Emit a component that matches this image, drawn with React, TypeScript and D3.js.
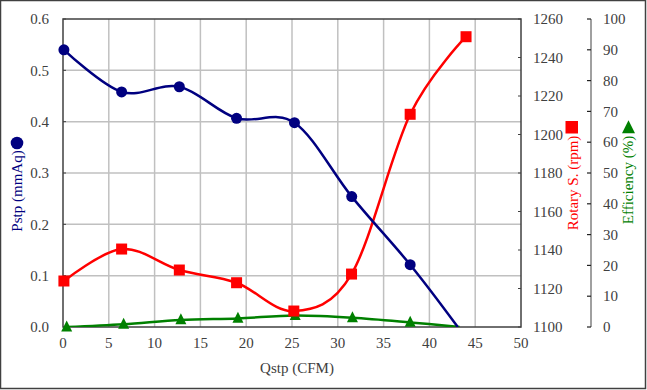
import React from "react";
import * as d3 from "d3";

const pstpQ = [0.1, 6.4, 12.7, 18.95, 25.27, 31.52, 37.9, 43.1];
const pstpV = [0.54, 0.458, 0.468, 0.4066, 0.398, 0.254, 0.1214, 0];
const pstpMarked = 7;

const rpmQ = [0.1, 6.4, 12.7, 18.95, 25.2, 31.5, 37.9, 44.0];
const rpmV = [1123.9, 1140.5, 1129.6, 1123.0, 1108.3, 1127.5, 1210.5, 1250.8];

const effQ = [0.4, 6.62, 12.87, 19.1, 25.35, 31.6, 37.9, 43.3];
const effV = [0, 0.9, 2.3, 2.8, 3.7, 3.0, 1.5, 0];
const effMarked = 7;

const xTicks = [0, 5, 10, 15, 20, 25, 30, 35, 40, 45, 50];
const pTicks = [0, 0.1, 0.2, 0.3, 0.4, 0.5, 0.6];
const rTicks = [1100, 1120, 1140, 1160, 1180, 1200, 1220, 1240, 1260];
const eTicks = [0, 10, 20, 30, 40, 50, 60, 70, 80, 90, 100];

const W = 647;
const H = 390;
const L = 63, R = 521, T = 19, B = 327;
const FONT = "Liberation Serif, DejaVu Serif, Times New Roman, serif";
const NAVY = "#000080";
const RED = "#ff0000";
const GREEN = "#008000";

export default function App() {
  const x = d3.scaleLinear().domain([0, 50]).range([L, R]);
  const yP = d3.scaleLinear().domain([0, 0.6]).range([B, T]);
  const yR = d3.scaleLinear().domain([1100, 1260]).range([B, T]);
  const yE = d3.scaleLinear().domain([0, 100]).range([B, T]);
  const curve = d3.curveCardinal.tension(0);

  const pPts = pstpQ.map((q, i) => [x(q), yP(pstpV[i])] as [number, number]);
  const rPts = rpmQ.map((q, i) => [x(q), yR(rpmV[i])] as [number, number]);
  const ePts = effQ.map((q, i) => [x(q), yE(effV[i])] as [number, number]);
  const line = d3.line().curve(curve);

  const tri = (cx: number, cy: number, s: number) =>
    `M${cx},${cy - s * 0.6} L${cx + s / 2},${cy + s * 0.4} L${cx - s / 2},${cy + s * 0.4} Z`;

  const EX = 591;
  const ts = { fontFamily: FONT, fontSize: 15 } as React.CSSProperties;

  return (
    <svg width={W} height={H} style={{ position: "absolute", left: 0, top: 0, background: "#fff", fontFamily: FONT }}>
      <rect x={0.5} y={0.5} width={W - 2} height={H - 2} fill="#fff" stroke="#404040" strokeWidth={1.5} />
      <defs>
        <clipPath id="plotclip">
          <rect x={L} y={T - 10} width={R - L + 10} height={B - T + 10} />
        </clipPath>
      </defs>
      {xTicks.slice(1, -1).map((t) => (
        <line key={"gx" + t} x1={x(t)} x2={x(t)} y1={T} y2={B} stroke="#c0c0c0" strokeWidth={1.5} />
      ))}
      {pTicks.slice(1, -1).map((t) => (
        <line key={"gy" + t} x1={L} x2={R} y1={yP(t)} y2={yP(t)} stroke="#c0c0c0" strokeWidth={1.5} />
      ))}
      <rect x={L} y={T} width={R - L} height={B - T} fill="none" stroke="#404040" strokeWidth={1.5} />
      {rTicks.map((t) => (
        <line key={"rt" + t} x1={R - 3} x2={R} y1={yR(t)} y2={yR(t)} stroke="#404040" strokeWidth={1} />
      ))}
      {pTicks.map((t) => (
        <line key={"pt" + t} x1={L} x2={L + 3} y1={yP(t)} y2={yP(t)} stroke="#404040" strokeWidth={1} />
      ))}
      <line x1={EX} x2={EX} y1={T} y2={B} stroke="#808080" strokeWidth={1.5} />
      {eTicks.map((t) => (
        <line key={"et" + t} x1={EX - 4} x2={EX} y1={yE(t)} y2={yE(t)} stroke="#202020" strokeWidth={1.2} />
      ))}

      <g clipPath="url(#plotclip)">
        <path d={line(ePts) || ""} fill="none" stroke={GREEN} strokeWidth={2.5} />
        <path d={line(rPts) || ""} fill="none" stroke={RED} strokeWidth={2.5} />
        <path d={line(pPts) || ""} fill="none" stroke={NAVY} strokeWidth={2.5} />
      </g>
      {ePts.slice(0, effMarked).map(([cx, cy], i) => (
        <path key={"em" + i} d={tri(cx, cy, 11)} fill={GREEN} />
      ))}
      {rPts.map(([cx, cy], i) => (
        <rect key={"rm" + i} x={cx - 5.5} y={cy - 5.5} width={11} height={11} fill={RED} />
      ))}
      {pPts.slice(0, pstpMarked).map(([cx, cy], i) => (
        <circle key={"pm" + i} cx={cx} cy={cy} r={5.5} fill={NAVY} />
      ))}

      {pTicks.map((t) => (
        <text key={"pl" + t} x={49} y={yP(t)} dy="0.35em" textAnchor="end" style={ts} fill="#404040">
          {t.toFixed(1)}
        </text>
      ))}
      {rTicks.map((t) => (
        <text key={"rl" + t} x={533} y={yR(t)} dy="0.35em" textAnchor="start" style={ts} fill="#404040">
          {t}
        </text>
      ))}
      {eTicks.map((t) => (
        <text key={"el" + t} x={603} y={yE(t)} dy="0.35em" textAnchor="start" style={ts} fill="#404040">
          {t}
        </text>
      ))}
      {xTicks.map((t) => (
        <text key={"xl" + t} x={x(t)} y={343} dy="0.35em" textAnchor="middle" style={ts} fill="#404040">
          {t}
        </text>
      ))}

      <text x={297} y={368} dy="0.35em" textAnchor="middle" style={ts} fill="#404040">
        Qstp (CFM)
      </text>
      <text transform="translate(22,191) rotate(-90)" textAnchor="middle" style={ts} fill={NAVY}>
        Pstp (mmAq)
      </text>
      <circle cx={17} cy={143} r={6.3} fill={NAVY} />
      <text transform="translate(578,183) rotate(-90)" textAnchor="middle" style={ts} fill={RED}>
        Rotary S. (rpm)
      </text>
      <rect x={565.5} y={121} width={12.5} height={12.5} fill={RED} />
      <text transform="translate(633,180) rotate(-90)" textAnchor="middle" style={ts} fill={GREEN}>
        Efficiency (%)
      </text>
      <path d={tri(628.5, 128, 13)} fill={GREEN} />
    </svg>
  );
}
